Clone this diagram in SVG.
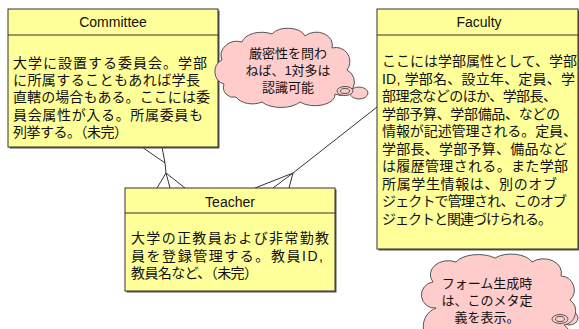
<svg xmlns="http://www.w3.org/2000/svg" width="579" height="329" viewBox="0 0 579 329">
<style>
.box{fill:#FFFF99;stroke:#333;stroke-width:1}
.shadow{fill:#555}
.div{stroke:#333;stroke-width:1}
.title{font-family:"Liberation Sans",Arial,sans-serif;font-size:14px;fill:#111;text-anchor:middle}
.body{font-family:"Liberation Sans","Noto Sans CJK JP",sans-serif;font-size:14px;fill:#111}
.note{font-family:"Liberation Sans","Noto Sans CJK JP",sans-serif;font-size:13px;fill:#111;text-anchor:middle}
.cloud{fill:#FFCCCC;stroke:#555;stroke-width:1}
.conn line{stroke:#333;stroke-width:1}
</style>
<rect width="579" height="329" fill="#fff"/>
<g id="connectors" class="conn">
  <line x1="142" y1="147" x2="165" y2="163"/>
  <line x1="162" y1="147" x2="165" y2="163"/>
  <line x1="165" y1="163" x2="166" y2="173"/>
  <line x1="166" y1="173" x2="157" y2="188"/>
  <line x1="166" y1="173" x2="170" y2="188"/>
  <line x1="166" y1="173" x2="185" y2="188"/>
  <line x1="293" y1="173" x2="377" y2="107"/>
  <line x1="293" y1="173" x2="255" y2="188"/>
  <line x1="293" y1="173" x2="273" y2="188"/>
  <line x1="293" y1="173" x2="289" y2="188"/>
</g>
<g id="committee">
  <rect class="shadow" x="9.5" y="10.5" width="210" height="138"/>
  <rect class="box" x="8" y="9" width="210" height="138"/>
  <line class="div" x1="8" y1="35" x2="218" y2="35"/>
  <text class="title" x="113" y="27">Committee</text>
  <text class="body"><tspan x="13" y="67.5" textLength="194">大学に設置する委員会。学部</tspan><tspan x="13" y="85" textLength="187">に所属することもあれば学長</tspan><tspan x="13" y="102" textLength="197">直轄の場合もある。ここには委</tspan><tspan x="13" y="119.5" textLength="190">員会属性が入る。所属委員も</tspan><tspan x="13" y="137" textLength="115">列挙する。（未完）</tspan></text>
</g>
<g id="faculty">
  <rect class="shadow" x="378.5" y="10.5" width="201" height="240"/>
  <rect class="box" x="377" y="9" width="201" height="240"/>
  <line class="div" x1="377" y1="35" x2="578" y2="35"/>
  <text class="title" x="479" y="27">Faculty</text>
  <text class="body"><tspan x="382" y="66" textLength="195">ここには学部属性として、学部</tspan><tspan x="382" y="83.5" textLength="193">ID, 学部名、設立年、定員、学</tspan><tspan x="382" y="101" textLength="175">部理念などのほか、学部長、</tspan><tspan x="382" y="118.5" textLength="178">学部予算、学部備品、などの</tspan><tspan x="382" y="136" textLength="195">情報が記述管理される。定員、</tspan><tspan x="382" y="153.5" textLength="185">学部長、学部予算、備品など</tspan><tspan x="382" y="171" textLength="186">は履歴管理される。また学部</tspan><tspan x="382" y="188.5" textLength="175">所属学生情報は、別のオブ</tspan><tspan x="382" y="206" textLength="185">ジェクトで管理され、このオブ</tspan><tspan x="382" y="223.5" textLength="170">ジェクトと関連づけられる。</tspan></text>
</g>
<g id="teacher">
  <rect class="shadow" x="126.5" y="189.5" width="210" height="103"/>
  <rect class="box" x="125" y="188" width="210" height="103"/>
  <line class="div" x1="125" y1="213" x2="335" y2="213"/>
  <text class="title" x="230" y="206.5">Teacher</text>
  <text class="body"><tspan x="131" y="243" textLength="198">大学の正教員および非常勤教</tspan><tspan x="131" y="260.5" textLength="192">員を登録管理する。教員ID,</tspan><tspan x="131" y="278" textLength="127">教員名など、（未完）</tspan></text>
</g>
<g id="note1">
  <ellipse class="cloud" cx="359" cy="93" rx="9" ry="6"/>
  <path class="cloud" d="M 224,84 A 13,13 0 0 1 222,60 A 16,14 0 0 1 242,42 A 20,12 0 0 1 272,34 A 18,11 0 0 1 305,36 A 16,13 0 0 1 332,48 A 14,14 0 0 1 347,70 A 13,13 0 0 1 335,94 A 20,11 0 0 1 300,102 A 22,11 0 0 1 262,102 A 18,12 0 0 1 236,97 A 10,10 0 0 1 224,84 Z"/>
  <ellipse class="cloud" cx="345" cy="91" rx="8" ry="4.5"/>
  <ellipse class="cloud" cx="345" cy="91" rx="4.5" ry="2.5"/>
  <text class="note"><tspan x="288" y="58">厳密性を問わ</tspan><tspan x="288" y="75">ねば、1対多は</tspan><tspan x="288" y="92">認識可能</tspan></text>
</g>
<g id="note2">
  <ellipse class="cloud" cx="569" cy="318" rx="9" ry="7"/>
  <path class="cloud" d="M 436,308 A 12,12 0 0 1 433,282 A 18,14 0 0 1 456,262 A 24,12 0 0 1 495,258 A 22,12 0 0 1 532,262 A 18,14 0 0 1 561,276 A 14,14 0 0 1 570,300 A 14,14 0 0 1 564,325 A 22,14 0 0 1 530,345 L 450,345 A 16,16 0 0 1 436,308 Z"/>
  <ellipse class="cloud" cx="560" cy="319" rx="8" ry="4.5"/>
  <ellipse class="cloud" cx="560" cy="319" rx="4.5" ry="2.5"/>
  <text class="note"><tspan x="487" y="288">フォーム生成時</tspan><tspan x="487" y="305">は、このメタ定</tspan><tspan x="487" y="322">義を表示。</tspan></text>
</g>
</svg>
